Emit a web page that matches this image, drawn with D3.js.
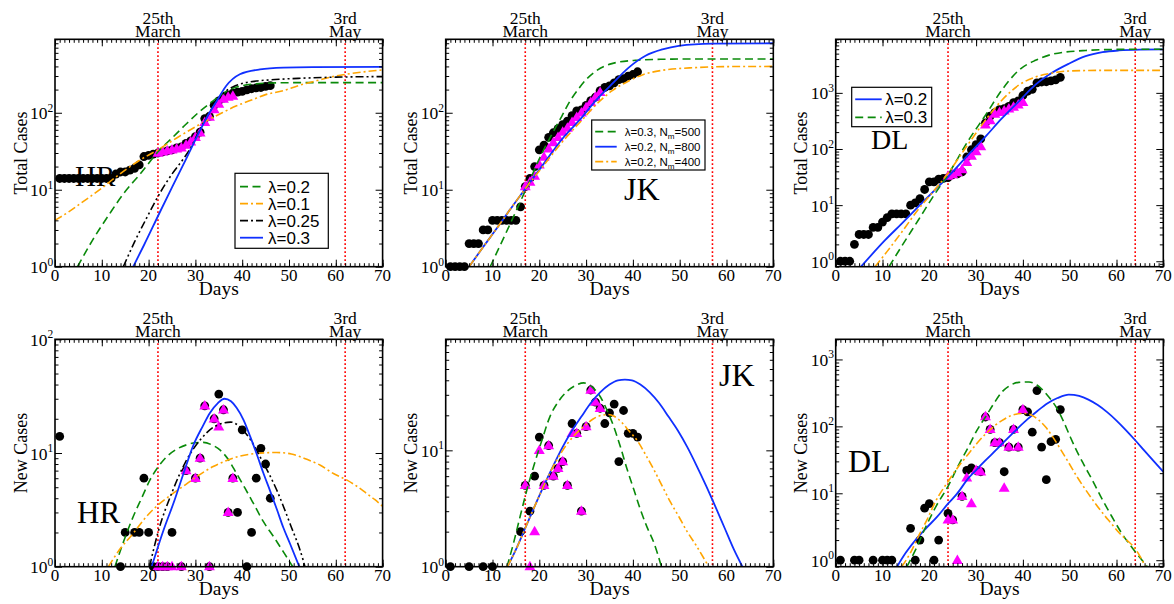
<!DOCTYPE html>
<html><head><meta charset="utf-8">
<script src="https://cdn.jsdelivr.net/npm/d3@7"></script>
<style>body{margin:0;background:#fff;} svg{display:block;}</style>
</head><body>
<svg id="chart" width="1174" height="604"></svg>
<script>
// ---------------- DATA ----------------
// Haryana (HR) total cases: black circles start at day 1
const hrTotStart = 1;
const hrTotCircles = [14,14,14,14,14,14,14,14,14,14,14,14,16,17,17,18,19,21,27,28,29,30,31,32,33,35,36,40,43,49,56,84,90,125,143,155,169,180,185,190,198,205,210,213,220,225];
const hrTotTriStart = 22;
const hrTotTri = [30,31,32,33,34,35,38,42,48,55,75,88,110,130,150,160,165];
const hrTotL02 = [[4.8,1],[8,2.2],[11.7,4.9],[15,9.5],[18.2,16],[22.4,33],[25,47],[28.1,72],[31,105],[33.8,143],[36,180],[38.1,209],[40,225],[42.4,236],[46,243],[52,246],[70,246]];
const hrTotL01 = [[0,4],[3,5.2],[6,7],[10,10.5],[13,14.6],[18,24],[22,33],[26,47],[31,71],[35,95],[38.8,123],[42,146],[45,172],[48.7,193],[52,225],[56,262],[59,292],[62,315],[66,340],[70,360]];
const hrTotL025 = [[14.6,1],[17,2.1],[19.5,4.2],[22.4,9],[25,16],[27.4,25],[29,35],[31,62],[33,100],[34.5,143],[36,180],[38,217],[40,240],[43,258],[47,270],[52,280],[60,290],[70,295]];
const hrTotL03 = [[16.7,1],[19,1.9],[22.4,5.1],[25,10.7],[28,25],[31,59],[33,100],[34.5,140],[36.6,224],[39.5,316],[43.8,366],[48.8,386],[55,392],[70,394]];

// Jammu & Kashmir (JK) total cases
const jkTotStart = 1;
const jkTotCircles = [1,1,1,1,2,2,2,3,3,4,4,4,4,4,4,6,11,14,20,33,38,48,55,62,70,78,92,106,109,125,144,160,194,213,224,245,270,278,300,314,341];
const jkTotTriStart = 17;
const jkTotTri = [11,12.6,15,21,26.5,34,41,48,56,63,75,87,100,117,137,160,184];
const jkTotG = [[9.5,1],[12.7,2.6],[17.1,10],[20.6,30],[22.5,50],[24.8,90],[26.5,140],[28.4,205],[30,270],[32,345],[35.5,435],[40.5,480],[46,495],[55,500],[70,500]];
const jkTotB = [[5,1],[8,1.8],[11,3.2],[14,5.8],[17.1,10.5],[21,22],[24.8,45],[29.1,87],[32,143],[35.5,235],[39.1,386],[42.7,550],[46.3,665],[49.8,740],[57,790],[70,800]];
const jkTotO = [[5,1],[8,1.8],[11,3.2],[14,5.8],[17.1,10.5],[21,21],[24.8,41],[29.1,80],[32,125],[35.5,192],[39.1,259],[42,310],[46.3,356],[53.4,386],[60.5,398],[70,400]];

// Delhi (DL) total cases
const dlTotStart = 1;
const dlTotCircles = [1,1,1,2,3,3,3,4,4,5,6,7,7,7,7,10,11,13,19,26,26,29,30,31,35,36,39,72,97,120,152,293,386,445,503,523,576,669,720,898,1069,1154,1510,1561,1578,1640,1707,1893];
const dlTotTriStart = 24;
const dlTotTri = [33,35,38,43,58,75,90,110,270,320,420,450,480,520,560,610,680];
const dlTotB = [[5.4,0.8],[10.6,2.4],[14,4.6],[17.7,9.5],[21,18],[24,32],[28.4,80],[32,166],[35.5,350],[39.1,700],[42.7,1400],[46.3,2300],[49.8,3300],[53.4,4500],[57,5300],[60.5,5700],[65,5900],[70,5950]];
const dlTotG = [[11.4,0.8],[14,1.8],[17.7,5.5],[21,15],[24,35],[28.4,144],[32,400],[35.5,1120],[39.1,2515],[42.7,3800],[46.3,4880],[53.4,5700],[60.5,5960],[70,6000]];
const dlTotO = [[8.4,0.8],[11,1.5],[14.1,3.3],[17.7,8.5],[21,18],[24,37],[28.4,125],[32,327],[35.5,740],[39.1,1370],[42.7,1920],[46.3,2260],[49.8,2450],[57,2515],[70,2520]];

// HR new cases
const hrNewDays = [1,14,15,17,18,19,20,21,22,23,24,25,27,28,30,31,32,33,34,35,36,37,38,39,40,41,42,43,44,45,46];
const hrNewVals = [14,1,2,2,2,6,2,1,1,1,1,2,1,7,6,9,26,1,20,33,24,3,6,3,16,1,2,6,11,8,4];
const hrNewTriDays = [22,23,24,25,27,28,30,31,32,33,34,35,36,37,38];
const hrNewTriVals = [1,1,1,1,1,7,6,9,26,1,20,17,24,3,6];
const hrNewL03 = [[20.65,1],[23.2,2.1],[25.5,3.8],[27.4,6.5],[29.6,11.8],[31.5,17],[33.1,22.5],[34.8,27.5],[36.2,30],[37.6,28.5],[38.8,25],[40.3,19.5],[41.7,14],[43.1,9.8],[44.5,6.7],[46,4.6],[47.4,3.2],[48.8,2.2],[50.2,1.6],[52.2,1]];
const hrNewL025 = [[20.2,1],[22,2],[25,4.5],[28,8.5],[31,13],[34,17],[37.5,18.7],[41,14.5],[44.5,8.2],[47.4,4.7],[50.2,2.4],[53,1.15],[53.4,1]];
const hrNewL02 = [[12.8,1],[14.5,1.6],[16.7,2.75],[18.5,4],[20.3,5.8],[22,7.5],[23.9,9.3],[26,10.8],[28.1,11.8],[30,12.3],[31.7,12.4],[33.5,11.8],[35.3,10.6],[37,8.8],[38.8,6.6],[40.6,4.9],[42.4,3.6],[44.5,2.5],[46.7,1.84],[48.8,1.35],[50.8,1]];
const hrNewL01 = [[11.4,1],[14,1.45],[16.7,1.96],[19,2.6],[21.7,3.4],[24.5,4.2],[27.4,5.1],[30.5,6.3],[33.8,7.6],[36.7,8.6],[39.5,9.4],[43,9.9],[47.4,10.1],[50.5,9.8],[53.8,8.8],[56.7,7.8],[59.5,6.6],[62.3,5.8],[64.5,5.1],[66.6,4.4],[68.3,3.9],[70,3.4]];

// JK new cases
const jkNewDays = [1,5,8,10,16,17,18,19,20,21,22,23,24,25,26,27,28,29,30,31,32,33,34,35,36,37,38,39,40,41];
const jkNewVals = [1,1,1,1,2,5,3,6,13,5,11,6,7,8,5,17,14,3,16,33,26,23,17,21,25,8,22,14,14,13];
const jkNewTriDays = [17,18,19,20,21,22,23,24,25,26,27,28,29,30,31,32,33];
const jkNewTriVals = [5,1,2,10,5,11,6,7,8,5,14,14,3,16,33,26,23];
const jkNewG = [[13.1,1],[14.5,1.6],[15.9,2.7],[17.3,4.5],[18.8,7.3],[20.5,12],[22.3,19.6],[24,26],[25.9,32],[27.7,36],[29.5,38],[31.3,35],[33,29],[34.5,22],[35.9,16],[37.4,10.5],[38.8,6.8],[40.2,4.6],[41.6,3.1],[43,2.2],[44.5,1.6],[46.1,1]];
const jkNewB = [[13.2,1],[15,1.4],[17,2.15],[19,3.3],[21,5],[23,7.4],[25,10.7],[27,14.8],[29,19.5],[31,25.5],[33,31.5],[35,36.8],[36.8,40],[38.3,40.6],[39.8,40],[41.6,36.8],[43.6,31.5],[45.6,25.5],[47.6,19.5],[49.6,14.8],[51.6,10.7],[53.6,7.4],[55.6,5],[57.6,3.3],[59.6,2.15],[61.6,1.4],[63.4,1]];
const jkNewO = [[13.2,1],[15,1.4],[17,2.15],[19,3.3],[21,5],[23,7.3],[25,10],[27.3,13.2],[29.5,16],[31.5,18.6],[33.3,20],[34.8,20.3],[36,19.6],[37.5,17.6],[39.1,14.8],[41,12],[42.7,9.2],[44.5,6.8],[46.3,4.9],[48,3.6],[49.8,2.7],[51.6,2],[53.4,1.55],[56.2,1]];

// DL new cases
const dlNewDays = [1,4,5,8,10,11,12,16,17,18,19,20,21,22,24,25,27,28,29,30,31,32,33,34,35,36,37,38,39,40,41,42,43,44,45,46,47,48];
const dlNewVals = [1,1,1,1,1,1,1,3,1,2,6,7,1,2,5,4,9,22,24,22,21,138,90,57,57,21,49,90,49,178,165,82,343,49,16,59,64,178];
const dlNewTriDays = [24,25,26,27,28,29,30,31,32,33,34,35,36,37,38,39,40];
const dlNewTriVals = [4,4,1,9,17,7,22,21,140,90,57,57,12,49,90,49,178];
const dlNewB = [[13.1,0.8],[15,1.3],[17.3,2.1],[19.5,3.1],[21.6,4.4],[24,7],[25.9,9.8],[28.4,17],[30.2,23],[32,31],[34.5,46],[36.5,64],[38.8,92],[41,128],[43.1,170],[45.2,220],[47.4,265],[49.8,299],[52,285],[54,251],[56,208],[58,163],[60,122],[62,88],[64,62],[66,43],[68,30],[70,21]];
const dlNewG = [[15.2,0.8],[17,1.4],[19.1,3],[21.5,6.5],[24,12.7],[26.2,26],[28.4,50],[30.2,88],[32,138],[33.8,220],[35.5,326],[37.3,410],[39.1,455],[41.3,460],[43,415],[44.4,340],[46,250],[47.3,185],[48.7,118],[50.1,70],[51.5,43],[53,27],[55,15],[57,8],[59,4.5],[61,2.6],[63.8,1.4],[66.6,0.8]];
const dlNewO = [[14.1,0.8],[16,1.3],[17.7,2.3],[19.5,4],[21.3,7.5],[24,15],[26.2,25],[28.4,39],[30.2,56],[32,77],[33.8,100],[35.5,122],[37.5,145],[39,154],[40.4,156],[42,145],[43.4,124],[45,95],[46.3,71],[48,46],[49.8,28.5],[51.6,17.5],[53.4,11.3],[55.2,7.5],[57,5.1],[58.8,3.6],[60.5,2.6],[62.2,2],[63.8,1.55],[65,1.15],[66.2,0.8]];

// axis / annotation labels
const xTicks = [0,10,20,30,40,50,60,70];
const dateLabels = [["25th","March"],["3rd","May"]];
const lockdownDays = { HR: [22,62], JK: [17,57], DL: [24,64] };

// ---------------- STYLE ----------------
const C = { green:"#0a8a0a", orange:"#ffa500", black:"#000", blue:"#1030ff", mag:"#ff00ff", red:"#ff0000" };
const DASH = { dashed:"8,4.5", dashdot:"8,3,2,3", dashdotdot:"8,3,2,3,2,3", solid:null };
const SERIF = "'Liberation Serif','Times New Roman',serif";
const SANS = "'Liberation Sans',Arial,sans-serif";

const svg = d3.select('#chart');
const PW = 327.6, PH = 227.4;
const colX = [55, 445.7, 835.7];
const rowY = [39.3, 339.3];

function idx(arr, start){ return arr.map((v,i)=>[start+i, v]); }
function pairs(days, vals){ return days.map((d,i)=>[d, vals[i]]); }

const panels = [
  { id:"a", col:0, row:0, state:"HR", yDom:[1,900], ylab:"Total Cases",
    circles: idx(hrTotCircles,hrTotStart), tris: idx(hrTotTri,hrTotTriStart),
    curves:[{d:hrTotL02,c:C.green,s:"dashed"},{d:hrTotL01,c:C.orange,s:"dashdot"},{d:hrTotL025,c:C.black,s:"dashdotdot"},{d:hrTotL03,c:C.blue,s:"solid"}],
    label:{t:"HR", x:75, y:186, fs:29},
    legend:{x:235, y:173.3, w:93.3, h:75, fs:17, rowH:17, first:13.4, lx:5, lw:23, tx:33,
      items:[{c:C.green,s:"dashed",t:"λ=0.2"},{c:C.orange,s:"dashdot",t:"λ=0.1"},{c:C.black,s:"dashdot",t:"λ=0.25"},{c:C.blue,s:"solid",t:"λ=0.3"}]}},
  { id:"b", col:1, row:0, state:"JK", yDom:[1,900], ylab:"Total Cases",
    circles: idx(jkTotCircles,jkTotStart), tris: idx(jkTotTri,jkTotTriStart),
    curves:[{d:jkTotG,c:C.green,s:"dashed"},{d:jkTotB,c:C.blue,s:"solid"},{d:jkTotO,c:C.orange,s:"dashdot"}],
    label:{t:"JK", x:624, y:200, fs:32},
    legend:{x:591.7, y:120, w:113.3, h:50, fs:11.5, rowH:15, first:11.7, lx:3.5, lw:21.5, tx:33,
      items:[{c:C.green,s:"dashed",t:"λ=0.3, N",sub:"m",t2:"=500"},{c:C.blue,s:"solid",t:"λ=0.2, N",sub:"m",t2:"=800"},{c:C.orange,s:"dashdot",t:"λ=0.2, N",sub:"m",t2:"=400"}]}},
  { id:"c", col:2, row:0, state:"DL", yDom:[0.8,9000], ylab:"Total Cases",
    circles: idx(dlTotCircles,dlTotStart), tris: idx(dlTotTri,dlTotTriStart),
    curves:[{d:dlTotB,c:C.blue,s:"solid"},{d:dlTotG,c:C.green,s:"dashed"},{d:dlTotO,c:C.orange,s:"dashdot"}],
    label:{t:"DL", x:871, y:149, fs:28},
    legend:{x:851.7, y:87.3, w:80, h:39.4, fs:17, rowH:18, first:12, lx:3.5, lw:26.5, tx:33.5,
      items:[{c:C.blue,s:"solid",t:"λ=0.2"},{c:C.green,s:"dashed",t:"λ=0.3"}]}},
  { id:"d", col:0, row:1, state:"HR", yDom:[1,100], ylab:"New Cases",
    circles: pairs(hrNewDays,hrNewVals), tris: pairs(hrNewTriDays,hrNewTriVals),
    curves:[{d:hrNewL02,c:C.green,s:"dashed"},{d:hrNewL01,c:C.orange,s:"dashdot"},{d:hrNewL025,c:C.black,s:"dashdotdot"},{d:hrNewL03,c:C.blue,s:"solid"}],
    label:{t:"HR", x:77, y:522.7, fs:31}},
  { id:"e", col:1, row:1, state:"JK", yDom:[1,90], ylab:"New Cases",
    circles: pairs(jkNewDays,jkNewVals), tris: pairs(jkNewTriDays,jkNewTriVals),
    curves:[{d:jkNewG,c:C.green,s:"dashed"},{d:jkNewB,c:C.blue,s:"solid"},{d:jkNewO,c:C.orange,s:"dashdotdot"}],
    label:{t:"JK", x:719, y:386, fs:32}},
  { id:"f", col:2, row:1, state:"DL", yDom:[0.8,2000], ylab:"New Cases",
    circles: pairs(dlNewDays,dlNewVals), tris: pairs(dlNewTriDays,dlNewTriVals),
    curves:[{d:dlNewB,c:C.blue,s:"solid"},{d:dlNewG,c:C.green,s:"dashed"},{d:dlNewO,c:C.orange,s:"dashdot"}],
    label:{t:"DL", x:848, y:472, fs:32}}
];

const defs = svg.append('defs');

panels.forEach(p => {
  const L = colX[p.col], T = rowY[p.row];
  const x = d3.scaleLinear().domain([0,70]).range([L, L+PW]);
  const y = d3.scaleLog().domain(p.yDom).range([T+PH, T]);
  const clip = 'clip-'+p.id;
  defs.append('clipPath').attr('id', clip).append('rect')
    .attr('x', L).attr('y', T).attr('width', PW).attr('height', PH);
  const g = svg.append('g');
  const inner = g.append('g').attr('clip-path', `url(#${clip})`);

  // lockdown lines + date labels
  lockdownDays[p.state].forEach((d,i) => {
    inner.append('line').attr('x1', x(d)).attr('x2', x(d)).attr('y1', T).attr('y2', T+PH)
      .attr('stroke', C.red).attr('stroke-width', 1.6).attr('stroke-dasharray', '1.6,2.4');
    g.append('text').attr('x', x(d)).attr('y', T-15.3).attr('text-anchor','middle')
      .attr('font-family', SERIF).attr('font-size', 17.5).text(dateLabels[i][0]);
    g.append('text').attr('x', x(d)).attr('y', T-2.2).attr('text-anchor','middle')
      .attr('font-family', SERIF).attr('font-size', 17.5).text(dateLabels[i][1]);
  });

  // panel label
  g.append('text').attr('x', p.label.x).attr('y', p.label.y).attr('font-family', SERIF)
    .attr('font-size', p.label.fs).text(p.label.t);

  // markers (not clipped, like the original)
  const mk = g.append('g');
  mk.selectAll('circle.obs').data(p.circles).join('circle')
    .attr('cx', d=>x(d[0])).attr('cy', d=>y(d[1])).attr('r', 4.4).attr('fill', '#000');
  const tri = d3.symbol().type(d3.symbolTriangle).size(52);
  mk.selectAll('path.tri').data(p.tris).join('path')
    .attr('d', tri).attr('transform', d=>`translate(${x(d[0])},${y(d[1])+0.5})`)
    .attr('fill', C.mag);

  // curves
  const curves = g.append('g').attr('clip-path', `url(#${clip})`);
  const line = d3.line().x(d=>x(d[0])).y(d=>y(d[1])).curve(d3.curveMonotoneX);
  p.curves.forEach(cv => {
    curves.append('path').attr('d', line(cv.d)).attr('fill','none')
      .attr('stroke', cv.c).attr('stroke-width', cv.s==="solid"?1.8:1.6)
      .attr('stroke-dasharray', DASH[cv.s]);
  });

  // axes ticks (inward, all four sides)
  const minorX = d3.range(0, 71, 1);
  const tk = (sel, axisGen) => { sel.call(axisGen); sel.select('.domain').remove(); sel.selectAll('line').attr('stroke','#000').attr('stroke-width',1); };
  g.append('g').attr('transform',`translate(0,${T+PH})`).call(s=>tk(s, d3.axisBottom(x).tickValues(minorX).tickSize(-3.5).tickFormat('')));
  g.append('g').attr('transform',`translate(0,${T+PH})`).call(s=>tk(s, d3.axisBottom(x).tickValues(xTicks).tickSize(-7).tickFormat('')));
  g.append('g').attr('transform',`translate(0,${T})`).call(s=>tk(s, d3.axisTop(x).tickValues(minorX).tickSize(-3.5).tickFormat('')));
  g.append('g').attr('transform',`translate(0,${T})`).call(s=>tk(s, d3.axisTop(x).tickValues(xTicks).tickSize(-7).tickFormat('')));
  const allY = y.ticks().filter(v => v>=p.yDom[0] && v<=p.yDom[1]);
  const majY = allY.filter(v => Math.abs(Math.log10(v) - Math.round(Math.log10(v))) < 1e-9);
  const minY = allY.filter(v => !majY.includes(v));
  g.append('g').attr('transform',`translate(${L},0)`).call(s=>tk(s, d3.axisLeft(y).tickValues(minY).tickSize(-3.5).tickFormat('')));
  g.append('g').attr('transform',`translate(${L},0)`).call(s=>tk(s, d3.axisLeft(y).tickValues(majY).tickSize(-7).tickFormat('')));
  g.append('g').attr('transform',`translate(${L+PW},0)`).call(s=>tk(s, d3.axisRight(y).tickValues(minY).tickSize(-3.5).tickFormat('')));
  g.append('g').attr('transform',`translate(${L+PW},0)`).call(s=>tk(s, d3.axisRight(y).tickValues(majY).tickSize(-7).tickFormat('')));

  // frame
  g.append('rect').attr('x', L).attr('y', T).attr('width', PW).attr('height', PH)
    .attr('fill','none').attr('stroke','#000').attr('stroke-width',1.6);

  // x tick labels
  g.selectAll('text.xt').data(xTicks).join('text').attr('x', d=>x(d)).attr('y', T+PH+14.5)
    .attr('text-anchor','middle').attr('font-family', SERIF).attr('font-size', 17).text(d=>d);
  // y tick labels 10^n
  majY.forEach(v => {
    const e = Math.round(Math.log10(v));
    const t = g.append('text').attr('x', L-1.8).attr('y', y(v)+6.5).attr('text-anchor','end')
      .attr('font-family', SERIF).attr('font-size', 17.5);
    t.append('tspan').text('10');
    t.append('tspan').attr('font-size', 11.5).attr('dy', -7.5).text(e);
  });
  // axis titles
  g.append('text').attr('x', (L+L+PW)/2).attr('y', T+PH+28).attr('text-anchor','middle')
    .attr('font-family', SERIF).attr('font-size', 19.5).text('Days');
  g.append('text').attr('transform', `translate(${L-28.5},${T+PH/2}) rotate(-90)`).attr('text-anchor','middle')
    .attr('font-family', SERIF).attr('font-size', 18).text(p.ylab);

  // legend
  if (p.legend) {
    const lg = p.legend;
    const lgG = g.append('g');
    lgG.append('rect').attr('x', lg.x).attr('y', lg.y).attr('width', lg.w).attr('height', lg.h)
      .attr('fill','#fff').attr('stroke','#000').attr('stroke-width',1.2);
    lg.items.forEach((it,i) => {
      const yy = lg.y + lg.first + i*lg.rowH;
      lgG.append('line').attr('x1', lg.x+lg.lx).attr('x2', lg.x+lg.lx+lg.lw).attr('y1', yy).attr('y2', yy)
        .attr('stroke', it.c).attr('stroke-width', 1.8).attr('stroke-dasharray', DASH[it.s]);
      const t = lgG.append('text').attr('x', lg.x+lg.tx).attr('y', yy + lg.fs*0.36)
        .attr('font-family', SANS).attr('font-size', lg.fs);
      t.append('tspan').text(it.t);
      if (it.sub) {
        t.append('tspan').attr('font-size', lg.fs*0.7).attr('dy', lg.fs*0.25).text(it.sub);
        t.append('tspan').attr('dy', -lg.fs*0.25).text(it.t2);
      }
    });
  }
});
</script>
</body></html>
